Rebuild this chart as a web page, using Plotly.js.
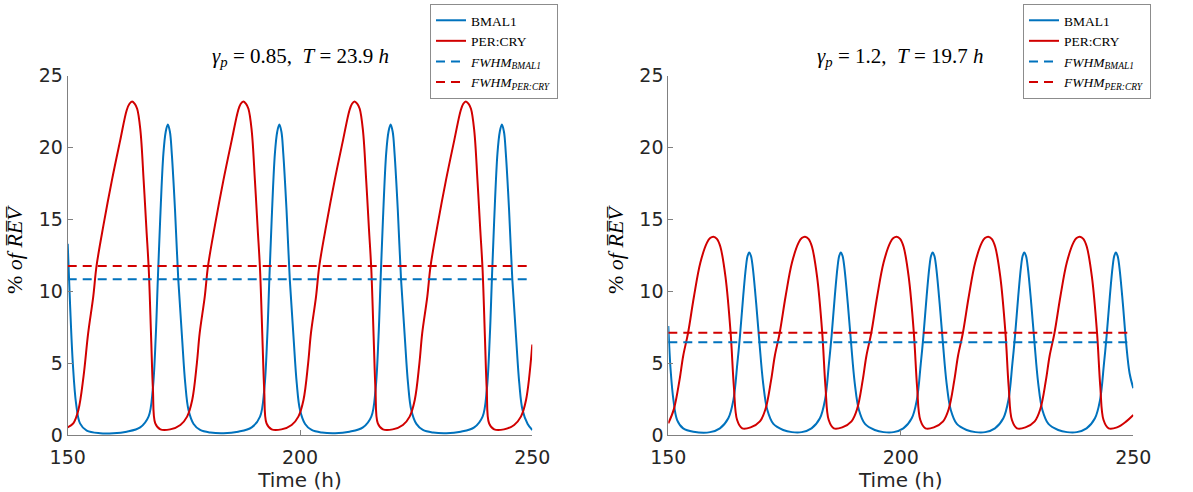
<!DOCTYPE html>
<html>
<head>
<meta charset="utf-8">
<script src="https://cdn.plot.ly/plotly-3.0.1.min.js"></script>
<style>html,body{margin:0;padding:0;background:#fff;}#chart{width:1193px;height:492px;}</style>
</head>
<body>
<div id="chart"></div>
<script>
// ---------- Left panel: gamma_p = 0.85, T = 23.9 h ----------
const leftBmalT = [150.0,150.5,151.1,151.8,152.65,154.1,157.0,159.8,
 162.70,165.60,167.40,168.30,168.95,169.40,169.90,170.60,171.10,171.55,172.00,172.40,173.10,173.80,174.60,175.30,176.00,177.10,178.50,180.70,183.55,
 186.70,189.60,191.40,192.30,192.95,193.40,193.90,194.60,195.10,195.55,196.00,196.40,197.10,197.80,198.60,199.30,200.00,201.10,202.50,204.70,207.55,
 210.65,213.55,215.35,216.25,216.90,217.35,217.85,218.55,219.05,219.50,219.95,220.35,221.05,221.75,222.55,223.25,223.95,225.05,226.45,228.65,231.50,
 234.60,237.50,239.30,240.20,240.85,241.30,241.80,242.50,243.00,243.45,243.90,244.30,245.00,245.70,246.50,247.20,247.90,249.00,250.00];
const leftBmalV = [13.3,9.16,5.0,2.2,0.81,0.3,0.12,0.12,
 0.23,0.53,1.28,3.13,6.84,10.83,14.96,19.6,21.1,21.6,21.1,19.6,15.66,10.83,6.84,3.6,1.74,0.77,0.35,0.17,0.12,
 0.23,0.53,1.28,3.13,6.84,10.83,14.96,19.6,21.1,21.6,21.1,19.6,15.66,10.83,6.84,3.6,1.74,0.77,0.35,0.17,0.12,
 0.23,0.53,1.28,3.13,6.84,10.83,14.96,19.6,21.1,21.6,21.1,19.6,15.66,10.83,6.84,3.6,1.74,0.77,0.35,0.17,0.12,
 0.23,0.53,1.28,3.13,6.84,10.83,14.96,19.6,21.1,21.6,21.1,19.6,15.66,10.83,6.84,3.6,1.74,0.77,0.35];
const leftPerT = [150.0,151.2,152.3,153.4,154.4,155.5,156.2,157.7,159.5,161.3,162.7,163.30,
 163.85,164.40,164.95,165.65,166.35,166.95,167.45,167.95,168.35,168.85,169.95,172.05,174.25,
 175.70,176.80,177.80,178.40,179.50,180.20,181.70,183.50,185.30,186.70,187.25,
 187.80,188.35,188.90,189.60,190.30,190.90,191.40,191.90,192.30,192.80,193.90,196.00,198.20,
 199.65,200.75,201.75,202.35,203.45,204.15,205.65,207.45,209.25,210.65,211.20,
 211.75,212.30,212.85,213.55,214.25,214.85,215.35,215.85,216.25,216.75,217.85,219.95,222.15,
 223.60,224.70,225.70,226.30,227.40,228.10,229.60,231.40,233.20,234.60,235.15,
 235.70,236.25,236.80,237.50,238.20,238.80,239.30,239.80,240.20,240.70,241.80,243.90,246.10,
 247.55,248.65,250.00];
const leftPerV = [0.53,0.81,1.74,4.06,7.07,9.63,11.75,14.6,17.7,20.5,22.6,23.05,
 23.2,23.05,22.7,21.2,17.7,14.3,11.5,6.84,3.13,0.81,0.39,0.39,0.7,
 1.28,2.44,4.99,7.07,9.63,11.75,14.6,17.7,20.5,22.6,23.05,
 23.2,23.05,22.7,21.2,17.7,14.3,11.5,6.84,3.13,0.81,0.39,0.39,0.7,
 1.28,2.44,4.99,7.07,9.63,11.75,14.6,17.7,20.5,22.6,23.05,
 23.2,23.05,22.7,21.2,17.7,14.3,11.5,6.84,3.13,0.81,0.39,0.39,0.7,
 1.28,2.44,4.99,7.07,9.63,11.75,14.6,17.7,20.5,22.6,23.05,
 23.2,23.05,22.7,21.2,17.7,14.3,11.5,6.84,3.13,0.81,0.39,0.39,0.7,
 1.28,2.44,6.3];
const leftFwhmBmal = 10.83;
const leftFwhmPer = 11.76;

// ---------- Right panel: gamma_p = 1.2, T = 19.7 h ----------
const rightBmalT = [150.0,150.5,151.1,151.9,153.2,155.4,
 159.00,161.10,162.90,164.00,164.85,165.40,166.10,166.70,167.05,167.40,167.78,168.15,168.90,169.60,170.40,171.30,172.60,174.70,176.60,
 178.70,180.80,182.60,183.70,184.55,185.10,185.80,186.40,186.75,187.10,187.48,187.85,188.60,189.30,190.10,191.00,192.30,194.40,196.30,
 198.45,200.55,202.35,203.45,204.30,204.85,205.55,206.15,206.50,206.85,207.23,207.60,208.35,209.05,209.85,210.75,212.05,214.15,216.05,
 218.15,220.25,222.05,223.15,224.00,224.55,225.25,225.85,226.20,226.55,226.93,227.30,228.05,228.75,229.55,230.45,231.75,233.85,235.75,
 237.85,239.95,241.75,242.85,243.70,244.25,244.95,245.55,245.90,246.25,246.63,247.00,247.75,248.45,249.20,250.00];
const rightBmalV = [7.59,4.52,2.44,1.04,0.46,0.23,
 0.2,0.46,1.16,2.44,4.99,6.84,9.63,11.7,12.45,12.7,12.45,11.7,9.16,6.43,3.6,1.74,0.77,0.35,0.2,
 0.2,0.46,1.16,2.44,4.99,6.84,9.63,11.7,12.45,12.7,12.45,11.7,9.16,6.43,3.6,1.74,0.77,0.35,0.2,
 0.2,0.46,1.16,2.44,4.99,6.84,9.63,11.7,12.45,12.7,12.45,11.7,9.16,6.43,3.6,1.74,0.77,0.35,0.2,
 0.2,0.46,1.16,2.44,4.99,6.84,9.63,11.7,12.45,12.7,12.45,11.7,9.16,6.43,3.6,1.74,0.77,0.35,0.2,
 0.2,0.46,1.16,2.44,4.99,6.84,9.63,11.7,12.45,12.7,12.45,11.7,9.16,6.43,4.3,3.25];
const rightPerT = [150.0,
 151.2,152.4,153.2,154.25,155.5,156.9,158.35,159.0,159.7,160.45,161.2,162.3,163.4,164.1,164.8,165.9,167.7,169.7,
 170.9,172.1,172.9,173.95,175.2,176.6,178.05,178.7,179.4,180.15,180.9,182.0,183.1,183.8,184.5,185.6,187.4,189.4,
 190.6,191.8,192.6,193.65,194.9,196.3,197.75,198.4,199.1,199.85,200.6,201.7,202.8,203.5,204.2,205.3,207.1,209.1,
 210.3,211.5,212.3,213.35,214.6,216.0,217.45,218.1,218.8,219.55,220.3,221.4,222.5,223.2,223.9,225.0,226.8,228.8,
 230.0,231.2,232.0,233.05,234.3,235.7,237.15,237.8,238.5,239.25,240.0,241.1,242.2,242.9,243.6,244.7,246.5,248.5,250.0];
const rightPerV = [0.81,
 1.8,3.8,5.5,7.1,9.6,12.0,13.4,13.7,13.8,13.65,13.1,11.0,7.12,3.36,1.04,0.46,0.53,0.95,
 1.8,3.8,5.5,7.1,9.6,12.0,13.4,13.7,13.8,13.65,13.1,11.0,7.12,3.36,1.04,0.46,0.53,0.95,
 1.8,3.8,5.5,7.1,9.6,12.0,13.4,13.7,13.8,13.65,13.1,11.0,7.12,3.36,1.04,0.46,0.53,0.95,
 1.8,3.8,5.5,7.1,9.6,12.0,13.4,13.7,13.8,13.65,13.1,11.0,7.12,3.36,1.04,0.46,0.53,0.95,
 1.8,3.8,5.5,7.1,9.6,12.0,13.4,13.7,13.8,13.65,13.1,11.0,7.12,3.36,1.04,0.46,0.53,0.95,1.39];
const rightFwhmBmal = 6.45;
const rightFwhmPer = 7.12;

const xRange = [150, 250];
const xTicks = [150, 200, 250];
const yTicks = [0, 5, 10, 15, 20, 25];
const titles = ['<i>γ</i><sub><i>p</i></sub> = 0.85,  <i>T</i> = 23.9 <i>h</i>',
                '<i>γ</i><sub><i>p</i></sub> = 1.2,  <i>T</i> = 19.7 <i>h</i>'];
const legendNames = ['BMAL1', 'PER:CRY',
  '<i>FWHM</i><sub><i>BMAL1</i></sub>', '<i>FWHM</i><sub><i>PER:CRY</i></sub>'];

const BLUE = '#0072BD', RED = '#D10000';
const spline = {shape: 'spline', smoothing: 1};

function panel(xa, ya, lg, bT, bV, pT, pV, fB, fP) {
  return [
    {x: bT, y: bV, xaxis: xa, yaxis: ya, legend: lg, type: 'scatter', mode: 'lines', name: legendNames[0],
     line: Object.assign({color: BLUE, width: 2}, spline)},
    {x: pT, y: pV, xaxis: xa, yaxis: ya, legend: lg, type: 'scatter', mode: 'lines', name: legendNames[1],
     line: Object.assign({color: RED, width: 2}, spline)},
    {x: xRange, y: [fB, fB], xaxis: xa, yaxis: ya, legend: lg, type: 'scatter', mode: 'lines', name: legendNames[2],
     line: {color: BLUE, width: 2, dash: '9px,6px'}},
    {x: xRange, y: [fP, fP], xaxis: xa, yaxis: ya, legend: lg, type: 'scatter', mode: 'lines', name: legendNames[3],
     line: {color: RED, width: 2, dash: '9px,6px'}}
  ];
}

const data = [].concat(
  panel('x', 'y', 'legend', leftBmalT, leftBmalV, leftPerT, leftPerV, leftFwhmBmal, leftFwhmPer),
  panel('x2', 'y2', 'legend2', rightBmalT, rightBmalV, rightPerT, rightPerV, rightFwhmBmal, rightFwhmPer)
);

const W = 1193, H = 492;
const tickFont = {family: 'DejaVu Sans, sans-serif', size: 19, color: '#262626'};
function xAxis(x0, x1) {
  return {domain: [x0 / W, x1 / W], range: xRange, tickvals: xTicks, ticks: 'inside', ticklen: 5,
    tickcolor: '#808080', showline: true, linecolor: '#808080', linewidth: 1, showgrid: false, zeroline: false,
    tickfont: tickFont, ticklabelstandoff: 5, fixedrange: true,
    title: {text: 'Time (h)', font: {family: 'DejaVu Sans, sans-serif', size: 20, color: '#262626'}, standoff: 2}};
}
function yAxis(anchor) {
  return {domain: [(H - 435) / H, (H - 75.7) / H], range: [0, 25], tickvals: yTicks, ticks: 'inside', ticklen: 5,
    tickcolor: '#808080', showline: true, linecolor: '#808080', linewidth: 1, showgrid: false, zeroline: false,
    tickfont: tickFont, anchor: anchor, fixedrange: true};
}
const legendBase = {bgcolor: '#ffffff', bordercolor: '#8c8c8c', borderwidth: 1,
  font: {family: 'Liberation Serif, DejaVu Serif, serif', size: 13.5, color: '#000000'},
  yanchor: 'top', xanchor: 'left', y: (H - 4) / H, tracegroupgap: 0, itemwidth: 30};

const ytitle = '% <i>of</i> <i>R\u0305E\u0305V\u0305</i>';
const annFont = {family: 'Liberation Serif, DejaVu Serif, serif', size: 21, color: '#000000'};

const layout = {
  width: W, height: H,
  margin: {l: 0, r: 0, t: 0, b: 0},
  paper_bgcolor: '#ffffff', plot_bgcolor: '#ffffff',
  showlegend: true,
  xaxis: Object.assign(xAxis(67.7, 532.3), {anchor: 'y'}),
  yaxis: yAxis('x'),
  xaxis2: Object.assign(xAxis(668.3, 1133.3), {anchor: 'y2'}),
  yaxis2: yAxis('x2'),
  legend: Object.assign({}, legendBase, {x: 430 / W}),
  legend2: Object.assign({}, legendBase, {x: 1023 / W}),
  annotations: [
    {text: titles[0], xref: 'x domain', yref: 'paper', x: 0.5, y: (H - 57) / H, showarrow: false,
     xanchor: 'center', yanchor: 'middle', font: annFont},
    {text: titles[1], xref: 'x2 domain', yref: 'paper', x: 0.5, y: (H - 57) / H, showarrow: false,
     xanchor: 'center', yanchor: 'middle', font: annFont},
    {text: ytitle, xref: 'paper', yref: 'paper', x: 15 / W, y: (H - 250) / H, textangle: -90, showarrow: false,
     xanchor: 'center', yanchor: 'middle', font: {family: annFont.family, size: 22, color: '#000000'}},
    {text: ytitle, xref: 'paper', yref: 'paper', x: 616 / W, y: (H - 250) / H, textangle: -90, showarrow: false,
     xanchor: 'center', yanchor: 'middle', font: {family: annFont.family, size: 22, color: '#000000'}}
  ]
};

Plotly.newPlot('chart', data, layout, {displayModeBar: false, staticPlot: true});
</script>
</body>
</html>
